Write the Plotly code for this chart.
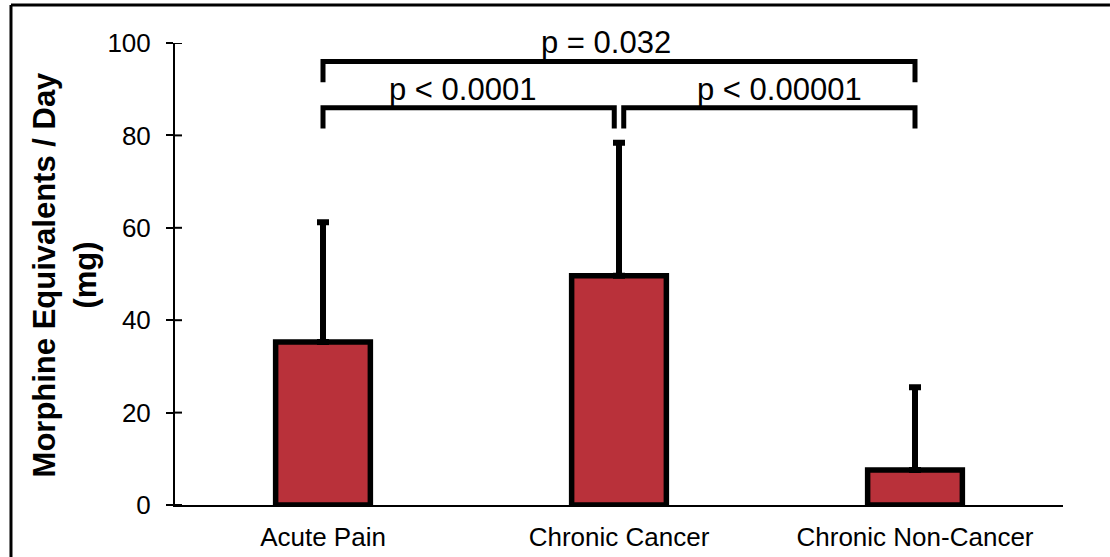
import plotly.graph_objects as go

# ---- data ----
categories = ["Acute Pain", "Chronic Cancer", "Chronic Non-Cancer"]
means = [35.3, 49.6, 7.6]
upper_err = [25.9, 28.8, 17.9]
y_ticks = [0, 20, 40, 60, 80, 100]

# significance brackets: (left category index, right category index, bar level, tip level, label)
bracket_left = [0, 1, 0]
bracket_right = [1, 2, 2]
bracket_level = [86, 86, 96]
bracket_tip = [81.5, 81.5, 91.5]
bracket_label = ["p < 0.0001", "p < 0.00001", "p = 0.032"]

# ---- style ----
FONT = "Liberation Sans, Arial, sans-serif"
BAR_COLOR = "#B9313A"
gap = 0.016  # small horizontal gap where adjacent brackets meet
label_shift = [-6, 10, -13]

fig = go.Figure()
fig.add_trace(go.Bar(
    x=list(range(len(categories))), y=means, width=0.32,
    marker=dict(color=BAR_COLOR, line=dict(color="black", width=5.5)),
    error_y=dict(type="data", array=upper_err, arrayminus=[0] * len(means),
                 symmetric=False, color="black", thickness=6, width=6),
    showlegend=False, hoverinfo="skip",
))

annotations = []
for i in range(len(bracket_label)):
    l, r = bracket_left[i], bracket_right[i]
    xl = l + (gap if l == 1 else 0)
    xr = r - (gap if r == 1 else 0)
    fig.add_trace(go.Scatter(
        x=[xl, xl, xr, xr],
        y=[bracket_tip[i], bracket_level[i], bracket_level[i], bracket_tip[i]],
        mode="lines", line=dict(color="black", width=5),
        showlegend=False, hoverinfo="skip",
    ))
    annotations.append(dict(
        x=(xl + xr) / 2, y=bracket_level[i], xref="x", yref="y",
        text=bracket_label[i], showarrow=False, yanchor="bottom",
        xshift=label_shift[i], yshift=-1,
        font=dict(family=FONT, size=31, color="black"),
    ))

annotations.append(dict(
    x=-0.1245, y=0.5, xref="paper", yref="paper",
    text="<b>Morphine Equivalents / Day</b><br><b>(mg)</b>",
    textangle=-90, showarrow=False, xanchor="center", yanchor="middle",
    font=dict(family=FONT, size=31, color="black"),
))

shapes = []
# inner half of the crossing y ticks
for t in y_ticks:
    shapes.append(dict(type="line", xref="paper", yref="y", x0=0, x1=7 / 888,
                       y0=t, y1=t, line=dict(color="black", width=2)))
# outer frame (left and top edges visible)
shapes.append(dict(type="line", xref="paper", yref="paper",
                   x0=-0.1847, x1=-0.1847, y0=-0.15, y1=1.0823,
                   line=dict(color="black", width=3)))
shapes.append(dict(type="line", xref="paper", yref="paper",
                   x0=-0.1847, x1=1.0529, y0=1.0823, y1=1.0823,
                   line=dict(color="black", width=3)))

fig.update_layout(
    width=1110, height=557,
    margin=dict(l=175, r=47, t=43, b=52),
    paper_bgcolor="white", plot_bgcolor="white",
    font=dict(family=FONT, size=26, color="black"),
    xaxis=dict(range=[-0.5, 2.5], tickvals=list(range(len(categories))),
               ticktext=categories, showline=True, linecolor="black", linewidth=2,
               ticks="", showgrid=False, zeroline=False, ticklabelstandoff=8,
               automargin=False,
               tickfont=dict(family=FONT, size=26, color="black")),
    yaxis=dict(range=[0, 100], tickvals=y_ticks, showline=True, linecolor="black",
               linewidth=2, ticks="outside", ticklen=7, tickwidth=2, tickcolor="black",
               showgrid=False, zeroline=False, ticklabelstandoff=10,
               automargin=False,
               tickfont=dict(family=FONT, size=26, color="black")),
    annotations=annotations, shapes=shapes,
)

fig.write_html(
    "out.html", config={"displayModeBar": False},
    post_script=("document.body.style.margin='0';"
                 "document.body.style.overflow='hidden';"
                 "document.documentElement.style.overflow='hidden';"),
)
